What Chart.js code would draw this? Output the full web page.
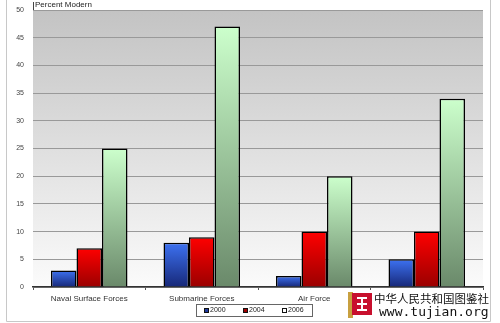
<!DOCTYPE html>
<html>
<head>
<meta charset="utf-8">
<script src="https://cdn.jsdelivr.net/npm/chart.js@4.4.1/dist/chart.umd.min.js"></script>
<style>
  html, body { margin: 0; padding: 0; background: #fff; }
  #wrap { width: 500px; height: 323px; position: relative; }
</style>
</head>
<body>
<div id="wrap"><canvas id="graphi" width="500" height="323"></canvas></div>
<script>
// datos del grafico
const categories = ["Naval Surface Forces", "Submarine Forces", "Air Force", "Strategic Forces"];
const years = ["2000", "2004", "2006"];
const values2000 = [3, 8, 2, 5];
const values2004 = [7, 9, 10, 10];
const values2006 = [25, 47, 20, 34];
const yTicks = [0, 5, 10, 15, 20, 25, 30, 35, 40, 45, 50];

// degradado vertical para cada barra
const barGradient = (top, bottom) => {
    return (ctx) => {
        const chart = ctx.chart;
        if (!chart.chartArea || ctx.type !== 'data' || !chart.scales.y) return bottom;
        const yTop = chart.scales.y.getPixelForValue(ctx.raw);
        const yBase = chart.scales.y.getPixelForValue(0);
        if (!isFinite(yTop) || !isFinite(yBase) || yTop === yBase) return top;
        const g = chart.ctx.createLinearGradient(0, yTop, 0, yBase);
        g.addColorStop(0, top);
        g.addColorStop(1, bottom);
        return g;
    };
};

// fondo gris del area del grafico
const plotBackground = {
    id: 'plotBackground',
    beforeDraw(chart) {
        const {ctx, chartArea: a} = chart;
        const g = ctx.createLinearGradient(0, a.top, 0, a.bottom);
        g.addColorStop(0, '#c3c3c3');
        g.addColorStop(1, '#fbfbfb');
        ctx.save();
        ctx.fillStyle = g;
        ctx.fillRect(a.left, a.top, a.right - a.left, a.bottom - a.top);
        ctx.restore();
    }
};

// titulo, leyenda, marco y marca de agua
const extras = {
    id: 'extras',
    afterDraw(chart) {
        const ctx = chart.ctx;
        const a = chart.chartArea;
        ctx.save();

        // marco exterior
        ctx.strokeStyle = '#c8c8c8';
        ctx.lineWidth = 1;
        ctx.beginPath();
        ctx.moveTo(6.5, 0);
        ctx.lineTo(6.5, 321.5);
        ctx.lineTo(490.5, 321.5);
        ctx.lineTo(490.5, 0);
        ctx.stroke();

        // titulo del eje
        ctx.strokeStyle = '#444';
        ctx.beginPath();
        ctx.moveTo(a.left + 0.5, 2);
        ctx.lineTo(a.left + 0.5, a.top);
        ctx.stroke();
        ctx.fillStyle = '#222';
        ctx.font = '8px "Liberation Sans", Arial, sans-serif';
        ctx.textBaseline = 'middle';
        ctx.textAlign = 'left';
        ctx.fillText('Percent Modern', a.left + 2, 5);

        // leyenda
        ctx.fillStyle = '#fff';
        ctx.fillRect(196, 304, 116, 12);
        ctx.strokeStyle = '#666';
        ctx.strokeRect(196.5, 304.5, 116, 12);
        const swatch = ['#1f3a9e', '#a00000', '#ffffff'];
        const xs = [204, 243, 282];
        ctx.font = '7px "Liberation Sans", Arial, sans-serif';
        years.forEach((y, i) => {
            ctx.fillStyle = swatch[i];
            ctx.fillRect(xs[i], 308, 5, 5);
            ctx.strokeStyle = '#111';
            ctx.strokeRect(xs[i] + 0.5, 308.5, 4, 4);
            ctx.fillStyle = '#222';
            ctx.fillText(y, xs[i] + 6, 310.5);
        });

        // marca de agua
        ctx.fillStyle = '#fff';
        ctx.fillRect(346, 291, 144, 30);
        ctx.fillStyle = '#c8a040';
        ctx.fillRect(348, 292, 5, 26);
        ctx.fillStyle = '#c8102e';
        ctx.fillRect(352, 293, 20, 22);
        ctx.fillStyle = '#fff';
        ctx.fillRect(357, 297, 10, 2);
        ctx.fillRect(357, 303, 10, 2);
        ctx.fillRect(357, 309, 10, 2);
        ctx.fillRect(361, 297, 2, 14);
        ctx.fillStyle = '#111';
        ctx.font = '11.5px "Noto Sans CJK SC", sans-serif';
        ctx.fillText('中华人民共和国图鉴社', 374, 299);
        ctx.font = '13px "DejaVu Sans Mono", "Liberation Mono", monospace';
        ctx.fillText('www.tujian.org', 379, 313);

        ctx.restore();
    }
};

const data = {
    labels: categories,
    datasets: [
        {
            label: years[0],
            data: values2000,
            backgroundColor: barGradient('#3d72f2', '#172878'),
            borderColor: '#000',
            borderWidth: 1.5
        },
        {
            label: years[1],
            data: values2004,
            backgroundColor: barGradient('#ff0000', '#9a0000'),
            borderColor: '#000',
            borderWidth: 1.5
        },
        {
            label: years[2],
            data: values2006,
            backgroundColor: barGradient('#ccffcc', '#6a896a'),
            borderColor: '#000',
            borderWidth: 1.5
        }
    ]
};

const options = {
    responsive: false,
    animation: false,
    layout: { padding: { top: 10, right: 17, left: 0, bottom: 0 } },
    plugins: {
        legend: { display: false },
        tooltip: { enabled: false }
    },
    datasets: {
        bar: { categoryPercentage: 0.68, barPercentage: 1 }
    },
    scales: {
        x: {
            afterFit: (s) => { s.height = 36; },
            grid: { display: true, offset: true, drawOnChartArea: false, tickLength: 3, color: '#555' },
            border: { color: '#333', width: 1.5 },
            ticks: { color: '#333', padding: 4, font: { family: '"Liberation Sans", Arial, sans-serif', size: 8 } }
        },
        y: {
            min: 0,
            max: 50,
            afterFit: (s) => { s.width = 33; s.paddingTop = 0; },
            afterBuildTicks: (s) => { s.ticks = yTicks.map(v => ({ value: v })); },
            grid: { color: '#999', lineWidth: 1, drawTicks: false },
            border: { display: false },
            ticks: { color: '#444', padding: 9, font: { family: '"Liberation Sans", Arial, sans-serif', size: 7 } }
        }
    }
};

new Chart('graphi', { type: 'bar', data, options, plugins: [plotBackground, extras] });
</script>
</body>
</html>
